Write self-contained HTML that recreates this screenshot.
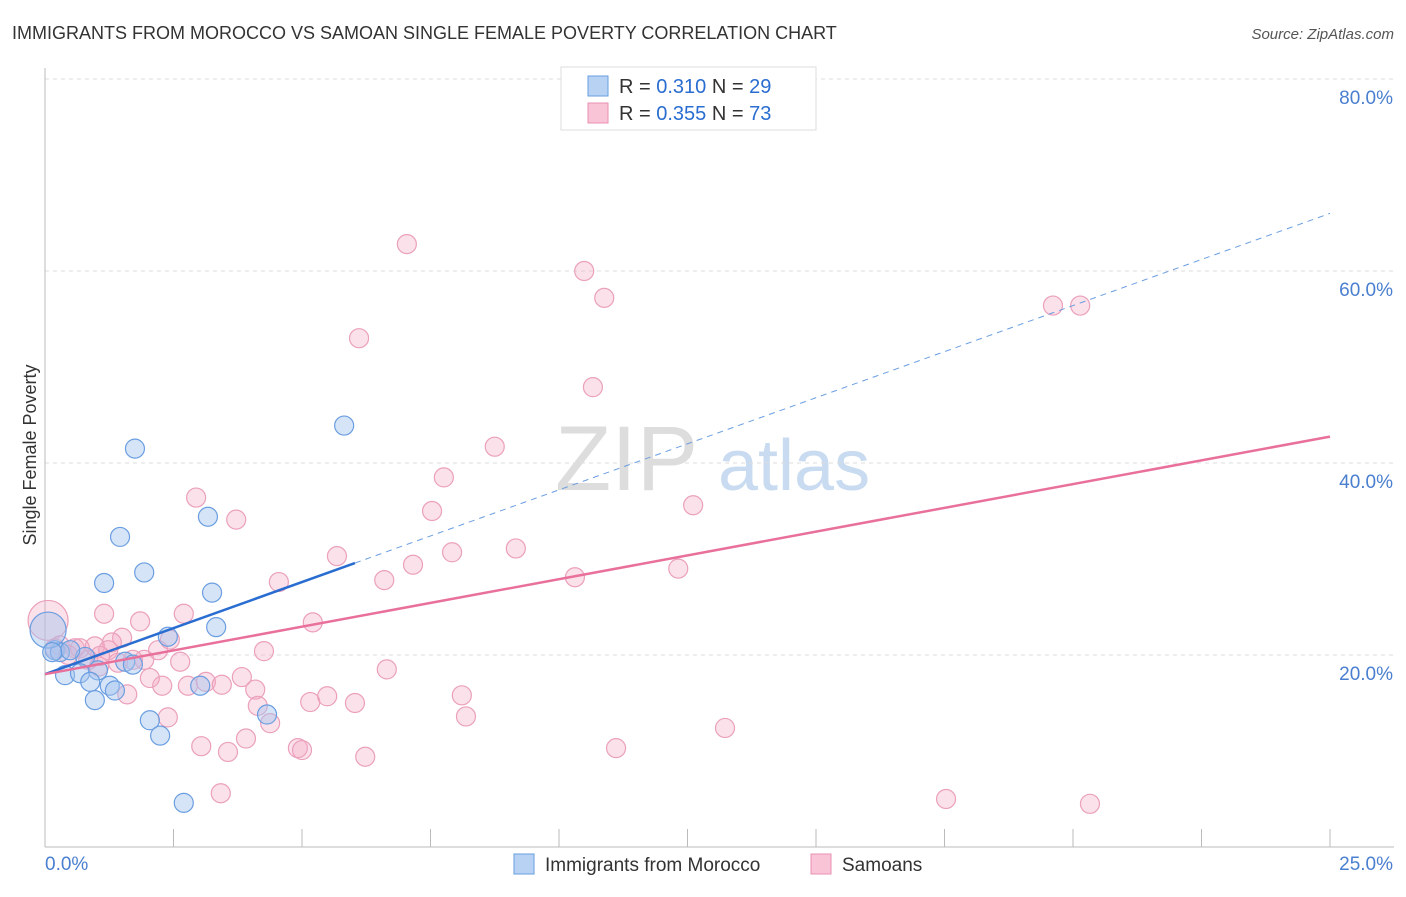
<!DOCTYPE html>
<html><head><meta charset="utf-8"><style>
body{margin:0;background:#fff;font-family:"Liberation Sans",sans-serif;}
svg text{font-family:"Liberation Sans",sans-serif;}
</style></head><body>
<svg id="chart" width="1406" height="892" viewBox="0 0 1406 892">
<text x="12" y="39" font-size="18" fill="#333">IMMIGRANTS FROM MOROCCO VS SAMOAN SINGLE FEMALE POVERTY CORRELATION CHART</text>
<text x="1394" y="39" font-size="15" fill="#555" text-anchor="end" font-style="italic">Source: ZipAtlas.com</text>
<g>
<text x="555" y="490" font-size="92" fill="#ddd" font-family="Liberation Serif">ZIP</text>
<text x="718" y="490" font-size="72" fill="#c9dbf0">atlas</text>
</g>
<g id="grid"></g>
<g id="axes"></g>
<g id="pts"></g>
<g id="trend"></g>
<text x="36" y="455" font-size="18" fill="#333" text-anchor="middle" transform="rotate(-90 36 455)">Single Female Poverty</text>
<g>
<rect x="561" y="67" width="255" height="63" fill="#fff" stroke="#ddd"/>
<rect x="588" y="76" width="20" height="20" fill="#b8d2f4" stroke="#6a9ee0"/>
<rect x="588" y="103" width="20" height="20" fill="#f8c4d6" stroke="#e890b0"/>
<text x="619" y="93" font-size="20" fill="#333">R = <tspan fill="#2a6dd0">0.310</tspan>    N = <tspan fill="#2a6dd0">29</tspan></text>
<text x="619" y="120" font-size="20" fill="#333">R = <tspan fill="#2a6dd0">0.355</tspan>    N = <tspan fill="#2a6dd0">73</tspan></text>
</g>
<g>
<rect x="514" y="854" width="20" height="20" fill="#b8d2f4" stroke="#6a9ee0"/>
<text x="545" y="871" font-size="19" fill="#333">Immigrants from Morocco</text>
<rect x="811" y="854" width="20" height="20" fill="#f8c4d6" stroke="#e890b0"/>
<text x="842" y="871" font-size="19" fill="#333">Samoans</text>
</g>
</svg>
<script>
const blueX=[1.75,1.46,1.15,1.93,3.17,3.25,3.33,2.39,5.82,0.19,0.29,0.78,1.03,0.39,0.68,0.88,1.26,1.56,1.71,1.36,0.97,2.04,2.24,3.02,4.32,2.70,0.06,0.49,0.14];
const blueY=[41.5,32.3,27.5,28.6,34.4,26.5,22.9,21.9,43.9,20.5,20.3,19.8,18.4,17.9,18.1,17.2,16.8,19.3,19.0,16.3,15.3,13.2,11.6,16.8,13.8,4.6,22.6,20.5,20.3];
const blueBig=[26];
const pinkX=[7.04,10.49,10.88,6.11,10.66,8.75,7.76,2.94,3.72,7.53,12.61,5.68,7.92,9.16,7.16,6.60,10.31,12.32,4.55,1.15,1.85,2.70,5.21,1.50,1.30,2.20,1.93,2.63,4.26,3.83,3.13,3.44,2.78,2.28,2.04,4.09,1.05,1.60,6.65,5.49,5.16,6.03,8.11,4.14,8.19,2.39,4.38,3.91,3.04,3.56,4.92,5.00,6.23,11.11,13.23,3.42,17.53,20.33,19.61,20.14,0.06,0.29,0.58,0.97,1.23,0.45,0.84,0.68,1.07,1.42,1.71,0.19,2.43];
const pinkY=[62.8,60.0,57.2,53.0,47.9,41.7,38.5,36.4,34.1,35.0,35.6,30.3,30.7,31.1,29.4,27.8,28.1,29.0,27.6,24.3,23.5,24.3,23.4,21.8,21.3,20.5,19.5,19.3,20.4,17.7,17.2,16.9,16.8,16.8,17.6,16.4,18.8,15.9,18.5,15.7,15.1,15.0,15.8,14.7,13.6,13.5,12.9,11.3,10.5,9.9,10.3,10.1,9.4,10.3,12.4,5.6,5.0,4.5,56.4,56.4,23.6,21.0,20.7,20.9,20.5,20.0,19.5,20.7,19.9,19.2,19.5,20.7,21.6];
const pinkBig=[60];
const yTicks=[20,40,60,80];
const yTickLabels=["20.0%","40.0%","60.0%","80.0%"];
const xTicks=[0,2.5,5,7.5,10,12.5,15,17.5,20,22.5,25];
const blueTrend=[18.0,1.92]; // intercept, slope
const blueSolidEnd=6.03;
const pinkTrend=[18.0,0.99];
const NS='http://www.w3.org/2000/svg';
const X=v=>45+v*51.4, Y=v=>847-v*9.6;
function mk(tag,attrs,parent){const e=document.createElementNS(NS,tag);for(const k in attrs)e.setAttribute(k,attrs[k]);document.getElementById(parent).appendChild(e);return e;}
yTicks.forEach((t,i)=>{
 const l=mk('line',{x1:45,x2:1394,y1:Y(t),y2:Y(t),stroke:'#ddd','stroke-dasharray':'4,4'},'grid');
 
 
 const tx=mk('text',{x:1393,y:Y(t)+25,'font-size':19,fill:'#4a7fd0','text-anchor':'end'},'grid');
 tx.textContent=yTickLabels[i];
 
 
});
let a=mk('line',{x1:45,x2:45,y1:68,y2:847,stroke:'#bbb'},'axes');


a=mk('line',{x1:45,x2:1394,y1:847,y2:847,stroke:'#bbb'},'axes');


xTicks.forEach(t=>{const l=mk('line',{x1:X(t),x2:X(t),y1:829,y2:847,stroke:'#bbb'},'axes');
 
 });
let t0=mk('text',{x:45,y:870,'font-size':19,fill:'#4a7fd0'},'axes');t0.textContent='0.0%';


t0=mk('text',{x:1393,y:870,'font-size':19,fill:'#4a7fd0','text-anchor':'end'},'axes');t0.textContent='25.0%';


pinkX.forEach((v,i)=>{const c=mk('circle',{cx:X(v),cy:Y(pinkY[i]),r:pinkBig.includes(i)?20:9.5,fill:'rgba(244,170,195,0.35)',stroke:'#eba0bb','stroke-width':1.2},'pts');
 
 });
blueX.forEach((v,i)=>{const c=mk('circle',{cx:X(v),cy:Y(blueY[i]),r:blueBig.includes(i)?18:9.5,fill:'rgba(164,196,240,0.45)',stroke:'#6a9ee0','stroke-width':1.2},'pts');
 
 });
let L=mk('line',{x1:X(blueSolidEnd),y1:Y(blueTrend[0]+blueTrend[1]*blueSolidEnd),x2:X(25),y2:Y(blueTrend[0]+blueTrend[1]*25),stroke:'#6a9ee0','stroke-dasharray':'6,5','stroke-width':1},'trend');


L=mk('line',{x1:X(0),y1:Y(blueTrend[0]),x2:X(blueSolidEnd),y2:Y(blueTrend[0]+blueTrend[1]*blueSolidEnd),stroke:'#2a6dd0','stroke-width':2.5},'trend');


L=mk('line',{x1:X(0),y1:Y(pinkTrend[0]),x2:X(25),y2:Y(pinkTrend[0]+pinkTrend[1]*25),stroke:'#e8709a','stroke-width':2.5},'trend');


</script>
</body></html>
